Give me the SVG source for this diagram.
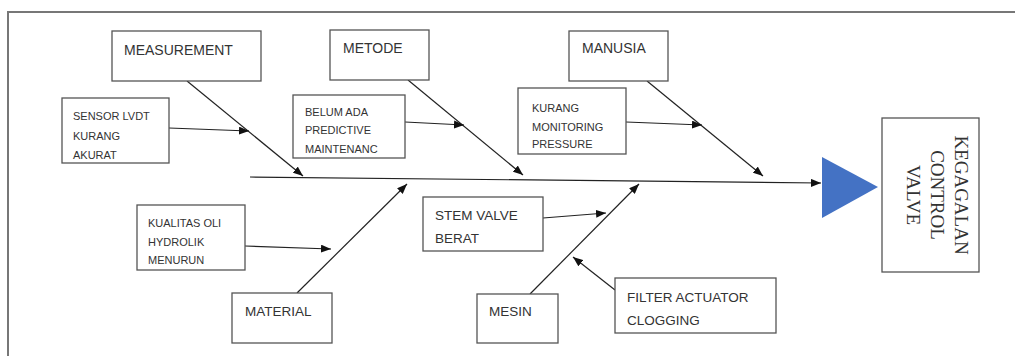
<svg xmlns="http://www.w3.org/2000/svg" width="1015" height="356" viewBox="0 0 1015 356">
<style>
.box{fill:#fff;stroke:#555;stroke-width:1.3}
.cat{font-family:"Liberation Sans",Arial,sans-serif;font-size:14px;fill:#333}
.sm{font-family:"Liberation Sans",Arial,sans-serif;font-size:11px;fill:#333}
.md{font-family:"Liberation Sans",Arial,sans-serif;font-size:13.5px;fill:#333}
.ln{stroke:#222;stroke-width:1.2;fill:none;marker-end:url(#ah)}
.head{font-family:"Liberation Serif","Times New Roman",serif;font-size:19px;fill:#333}
</style>
<defs>
<marker id="ah" markerUnits="userSpaceOnUse" markerWidth="10" markerHeight="8" refX="10" refY="4" orient="auto">
<path d="M0,0 L10,4 L0,8 z" fill="#111"/>
</marker>
</defs>
<rect x="0" y="0" width="1015" height="356" fill="#fff"/>
<g id="frame" fill="none" stroke="#777" stroke-width="2">
<path d="M8,356 L8,12 L1015,12"/>
</g>
<g id="connectors">
<path class="ln" d="M250,177 L821,183"/>
<path class="ln" d="M187,81 L303,176"/>
<path class="ln" d="M169,128 L249,131"/>
<path class="ln" d="M408,80 L523,175"/>
<path class="ln" d="M405,122 L464,125"/>
<path class="ln" d="M647,81 L763,176"/>
<path class="ln" d="M626,122 L702,125"/>
<path class="ln" d="M297,293 L407,184"/>
<path class="ln" d="M245,246 L331,249"/>
<path class="ln" d="M530,294 L639,184"/>
<path class="ln" d="M543,218 L606,213"/>
<path class="ln" d="M615,290 L573,257"/>
</g>
<g id="head-arrow">
<polygon points="822,157 878,187 822,218" fill="#4472C4"/>
</g>
<g id="measurement">
<rect class="box" x="112" y="31" width="149" height="50"/>
<text class="cat" x="124" y="55">MEASUREMENT</text>
</g>
<g id="sensor-lvdt">
<rect class="box" x="62" y="98" width="107" height="65"/>
<text class="sm" x="73" y="120">SENSOR LVDT</text>
<text class="sm" x="73" y="140">KURANG</text>
<text class="sm" x="73" y="159">AKURAT</text>
</g>
<g id="metode">
<rect class="box" x="330" y="30" width="99" height="50"/>
<text class="cat" x="343" y="53">METODE</text>
</g>
<g id="belum-ada">
<rect class="box" x="293" y="95" width="112" height="63"/>
<text class="sm" x="305" y="116">BELUM ADA</text>
<text class="sm" x="305" y="134">PREDICTIVE</text>
<text class="sm" x="305" y="153">MAINTENANC</text>
</g>
<g id="manusia">
<rect class="box" x="569" y="31" width="99" height="50"/>
<text class="cat" x="582" y="53">MANUSIA</text>
</g>
<g id="kurang-monitoring">
<rect class="box" x="518" y="88" width="108" height="66"/>
<text class="sm" x="532" y="112">KURANG</text>
<text class="sm" x="532" y="131">MONITORING</text>
<text class="sm" x="532" y="148">PRESSURE</text>
</g>
<g id="kualitas-oli">
<rect class="box" x="137" y="205" width="108" height="65"/>
<text class="sm" x="148" y="227">KUALITAS OLI</text>
<text class="sm" x="148" y="246">HYDROLIK</text>
<text class="sm" x="148" y="264">MENURUN</text>
</g>
<g id="material">
<rect class="box" x="232" y="293" width="100" height="50"/>
<text class="md" x="245" y="316">MATERIAL</text>
</g>
<g id="stem-valve">
<rect class="box" x="423" y="197" width="120" height="54"/>
<text class="md" x="435" y="220">STEM VALVE</text>
<text class="md" x="435" y="243">BERAT</text>
</g>
<g id="mesin">
<rect class="box" x="477" y="294" width="81" height="49"/>
<text class="md" x="489" y="316">MESIN</text>
</g>
<g id="filter-actuator">
<rect class="box" x="615" y="278" width="161" height="55"/>
<text class="md" x="627" y="302">FILTER ACTUATOR</text>
<text class="md" x="627" y="325">CLOGGING</text>
</g>
<g id="kegagalan">
<rect class="box" x="882" y="118" width="97" height="154"/>
<text class="head" transform="translate(955,195) rotate(90)" text-anchor="middle">KEGAGALAN</text>
<text class="head" transform="translate(931,195) rotate(90)" text-anchor="middle">CONTROL</text>
<text class="head" transform="translate(907,195) rotate(90)" text-anchor="middle">VALVE</text>
</g>
</svg>
